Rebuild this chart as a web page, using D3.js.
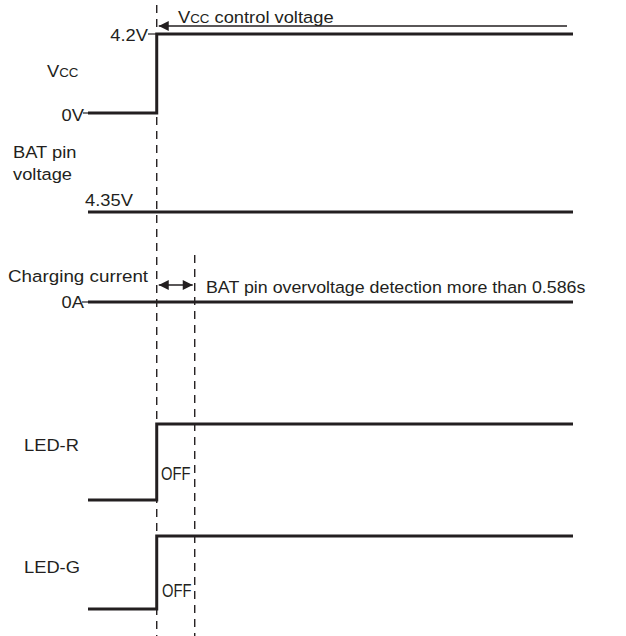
<!DOCTYPE html>
<html>
<head>
<meta charset="utf-8">
<script src="https://cdn.jsdelivr.net/npm/d3@7.9.0/dist/d3.min.js"></script>
<style>
  body { margin: 0; background: #fff; }
  text { font-family: "Liberation Sans", Arial, sans-serif; fill: #231f20; }
</style>
</head>
<body>
<div id="chart"></div>
<script>
// time in seconds, 0 = moment Vcc is applied
const tStart = -1.06;
const tEnd = 6.42;
const tDetect = 0.586; // BAT pin overvoltage detection time

const vccTimes = [tStart, 0, tEnd];
const vccVolts = [0, 4.2, 4.2];
const batTimes = [tStart, tEnd];
const batVolts = [4.35, 4.35];
const currentTimes = [tStart, tEnd];
const currentAmps = [0, 0];
const ledRTimes = [tStart, 0, tEnd];
const ledRLevel = [0, 1, 1]; // 1 = OFF
const ledGTimes = [tStart, 0, tEnd];
const ledGLevel = [0, 1, 1];

const width = 626, height = 636;
const ink = "#231f20";
const sx = 1.11; // text in the source is a bit wide

const svg = d3.select("#chart")
    .append("svg")
    .attr("width", width)
    .attr("height", height);

const x = d3.scaleLinear().domain([tStart, tEnd]).range([88, 573]);

// one y scale per trace
const yVcc = d3.scaleLinear().domain([0, 4.2]).range([113, 34]);
const yBat = d3.scaleLinear().domain([0, 4.35]).range([260, 212]);
const yCur = d3.scaleLinear().domain([0, 1]).range([302, 250]);
const yLedR = d3.scaleLinear().domain([0, 1]).range([500, 424]);
const yLedG = d3.scaleLinear().domain([0, 1]).range([609, 536]);

function trace(times, vals, y) {
    const pts = times.map((t, i) => [x(t), y(vals[i])]);
    const line = d3.line().curve(d3.curveStepAfter);
    svg.append("path")
        .attr("d", line(pts))
        .attr("fill", "none")
        .attr("stroke", ink)
        .attr("stroke-width", 3);
}

function label(str, px, py, opts = {}) {
    const t = svg.append("text")
        .attr("transform", `translate(${px},${py}) scale(${opts.sx || sx},1)`)
        .attr("font-size", opts.size || 16.5)
        .attr("text-anchor", opts.anchor || "start")
        .text(str);
    return t;
}

function tick(x1, x2, yy) {
    svg.append("line")
        .attr("x1", x1).attr("x2", x2)
        .attr("y1", yy).attr("y2", yy)
        .attr("stroke", ink).attr("stroke-width", 1.2);
}

// dashed timing markers
svg.append("line")
    .attr("x1", x(0)).attr("x2", x(0))
    .attr("y1", 5).attr("y2", height)
    .attr("stroke", ink).attr("stroke-width", 1.4)
    .attr("stroke-dasharray", "8,6");
svg.append("line")
    .attr("x1", x(tDetect)).attr("x2", x(tDetect))
    .attr("y1", 255).attr("y2", height)
    .attr("stroke", ink).attr("stroke-width", 1.4)
    .attr("stroke-dasharray", "8,6");

// arrow heads
const defs = svg.append("defs");
defs.append("marker")
    .attr("id", "arrow")
    .attr("viewBox", "0 0 10 10")
    .attr("refX", 10).attr("refY", 5)
    .attr("markerUnits", "userSpaceOnUse")
    .attr("markerWidth", 12).attr("markerHeight", 10)
    .attr("orient", "auto-start-reverse")
    .append("path")
    .attr("d", "M0,0 L10,5 L0,10 Z")
    .attr("fill", ink);

// traces
trace(vccTimes, vccVolts, yVcc);
trace(batTimes, batVolts, yBat);
trace(currentTimes, currentAmps, yCur);
trace(ledRTimes, ledRLevel, yLedR);
trace(ledGTimes, ledGLevel, yLedG);

// Vcc control voltage arrow
svg.append("line")
    .attr("x1", 567).attr("x2", x(0) + 2)
    .attr("y1", 26).attr("y2", 26)
    .attr("stroke", ink).attr("stroke-width", 1.3)
    .attr("marker-end", "url(#arrow)");
const vc = label("V", 178, 23);
vc.append("tspan").attr("font-size", 12).text("CC");
vc.append("tspan").text(" control voltage");

// Vcc
const vl = label("V", 47, 77);
vl.append("tspan").attr("font-size", 12).text("CC");
label("4.2V", 148, yVcc(4.2) + 7, { anchor: "end" });
tick(148, x(0), yVcc(4.2));
label("0V", 84, yVcc(0) + 8, { anchor: "end" });
tick(83, x(tStart), yVcc(0));

// BAT pin voltage
label("BAT pin", 13, 158);
label("voltage", 13, 180);
label("4.35V", 85, yBat(4.35) - 6);

// charging current
label("Charging current", 8, 282, { sx: 1.14 });
svg.append("line")
    .attr("x1", x(0) + 2).attr("x2", x(tDetect) - 2)
    .attr("y1", 285).attr("y2", 285)
    .attr("stroke", ink).attr("stroke-width", 1.3)
    .attr("marker-start", "url(#arrow)")
    .attr("marker-end", "url(#arrow)");
label("BAT pin overvoltage detection more than 0.586s", 206, 293, { sx: 1.08 });
label("0A", 84, yCur(0) + 6, { anchor: "end" });
tick(82, x(tStart), yCur(0));

// LEDs
label("LED-R", 24, 451);
label("OFF", 161, 480, { sx: 0.82, size: 18 });
label("LED-G", 24, 573);
label("OFF", 162, 597, { sx: 0.82, size: 18 });
</script>
</body>
</html>
